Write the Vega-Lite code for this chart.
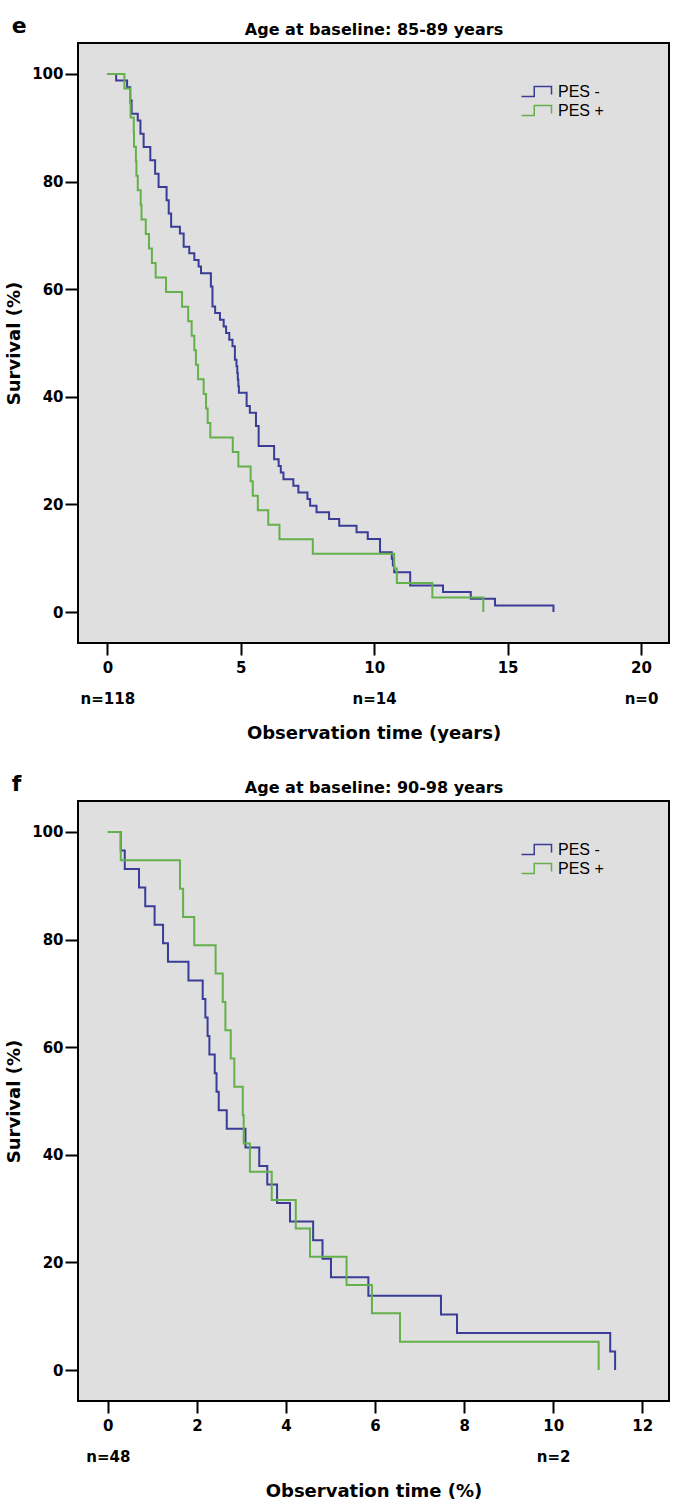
{
  "$schema": "https://vega.github.io/schema/vega-lite/v6.json",
  "background": "white",
  "padding": {"left": 4, "top": 14, "right": 2, "bottom": 4},
  "datasets": {
    "e": [
      {"g": "PES -", "t": 0, "s": 100}, {"g": "PES -", "t": 0.33, "s": 98.77}, {"g": "PES -", "t": 0.74, "s": 97.53}, {"g": "PES -", "t": 0.86, "s": 95.06}, {"g": "PES -", "t": 0.91, "s": 92.59}, {"g": "PES -", "t": 1.14, "s": 91.36}, {"g": "PES -", "t": 1.24, "s": 88.89}, {"g": "PES -", "t": 1.36, "s": 86.42}, {"g": "PES -", "t": 1.61, "s": 83.95}, {"g": "PES -", "t": 1.79, "s": 81.48}, {"g": "PES -", "t": 1.92, "s": 79.01}, {"g": "PES -", "t": 2.22, "s": 76.54}, {"g": "PES -", "t": 2.3, "s": 74.07}, {"g": "PES -", "t": 2.39, "s": 71.6}, {"g": "PES -", "t": 2.72, "s": 70.37}, {"g": "PES -", "t": 2.86, "s": 67.9}, {"g": "PES -", "t": 3.07, "s": 66.67}, {"g": "PES -", "t": 3.26, "s": 65.43}, {"g": "PES -", "t": 3.42, "s": 64.2}, {"g": "PES -", "t": 3.51, "s": 62.96}, {"g": "PES -", "t": 3.88, "s": 60.49}, {"g": "PES -", "t": 3.94, "s": 56.79}, {"g": "PES -", "t": 4.04, "s": 55.56}, {"g": "PES -", "t": 4.22, "s": 54.32}, {"g": "PES -", "t": 4.36, "s": 53.09}, {"g": "PES -", "t": 4.45, "s": 51.85}, {"g": "PES -", "t": 4.57, "s": 50.62}, {"g": "PES -", "t": 4.69, "s": 49.38}, {"g": "PES -", "t": 4.78, "s": 46.91}, {"g": "PES -", "t": 4.84, "s": 45.68}, {"g": "PES -", "t": 4.87, "s": 44.44}, {"g": "PES -", "t": 4.89, "s": 43.21}, {"g": "PES -", "t": 4.91, "s": 41.98}, {"g": "PES -", "t": 4.93, "s": 40.74}, {"g": "PES -", "t": 5.22, "s": 38.27}, {"g": "PES -", "t": 5.34, "s": 37.04}, {"g": "PES -", "t": 5.57, "s": 34.57}, {"g": "PES -", "t": 5.67, "s": 30.86}, {"g": "PES -", "t": 6.25, "s": 28.4}, {"g": "PES -", "t": 6.42, "s": 27.16}, {"g": "PES -", "t": 6.5, "s": 25.93}, {"g": "PES -", "t": 6.6, "s": 24.69}, {"g": "PES -", "t": 6.97, "s": 23.46}, {"g": "PES -", "t": 7.16, "s": 22.22}, {"g": "PES -", "t": 7.5, "s": 20.99}, {"g": "PES -", "t": 7.6, "s": 19.75}, {"g": "PES -", "t": 7.84, "s": 18.52}, {"g": "PES -", "t": 8.31, "s": 17.28}, {"g": "PES -", "t": 8.69, "s": 16.05}, {"g": "PES -", "t": 9.34, "s": 14.81}, {"g": "PES -", "t": 9.76, "s": 13.58}, {"g": "PES -", "t": 10.22, "s": 11.11}, {"g": "PES -", "t": 10.66, "s": 9.88}, {"g": "PES -", "t": 10.7, "s": 8.64}, {"g": "PES -", "t": 10.75, "s": 7.41}, {"g": "PES -", "t": 11.35, "s": 4.94}, {"g": "PES -", "t": 12.58, "s": 3.7}, {"g": "PES -", "t": 13.62, "s": 2.47}, {"g": "PES -", "t": 14.53, "s": 1.23}, {"g": "PES -", "t": 16.72, "s": 0},
      {"g": "PES +", "t": 0, "s": 100}, {"g": "PES +", "t": 0.64, "s": 97.3}, {"g": "PES +", "t": 0.85, "s": 94.59}, {"g": "PES +", "t": 0.87, "s": 91.89}, {"g": "PES +", "t": 0.99, "s": 89.19}, {"g": "PES +", "t": 1.0, "s": 86.49}, {"g": "PES +", "t": 1.07, "s": 83.78}, {"g": "PES +", "t": 1.09, "s": 81.08}, {"g": "PES +", "t": 1.14, "s": 78.38}, {"g": "PES +", "t": 1.25, "s": 75.68}, {"g": "PES +", "t": 1.28, "s": 72.97}, {"g": "PES +", "t": 1.44, "s": 70.27}, {"g": "PES +", "t": 1.56, "s": 67.57}, {"g": "PES +", "t": 1.67, "s": 64.86}, {"g": "PES +", "t": 1.81, "s": 62.16}, {"g": "PES +", "t": 2.2, "s": 59.46}, {"g": "PES +", "t": 2.8, "s": 56.76}, {"g": "PES +", "t": 3.03, "s": 54.05}, {"g": "PES +", "t": 3.16, "s": 51.35}, {"g": "PES +", "t": 3.26, "s": 48.65}, {"g": "PES +", "t": 3.32, "s": 45.95}, {"g": "PES +", "t": 3.4, "s": 43.24}, {"g": "PES +", "t": 3.61, "s": 40.54}, {"g": "PES +", "t": 3.7, "s": 37.84}, {"g": "PES +", "t": 3.76, "s": 35.14}, {"g": "PES +", "t": 3.86, "s": 32.43}, {"g": "PES +", "t": 4.7, "s": 29.73}, {"g": "PES +", "t": 4.91, "s": 27.03}, {"g": "PES +", "t": 5.37, "s": 24.32}, {"g": "PES +", "t": 5.45, "s": 21.62}, {"g": "PES +", "t": 5.64, "s": 18.92}, {"g": "PES +", "t": 6.03, "s": 16.22}, {"g": "PES +", "t": 6.45, "s": 13.51}, {"g": "PES +", "t": 7.7, "s": 10.81}, {"g": "PES +", "t": 10.75, "s": 8.11}, {"g": "PES +", "t": 10.85, "s": 5.41}, {"g": "PES +", "t": 12.18, "s": 2.7}, {"g": "PES +", "t": 14.09, "s": 0}
    ],
    "f": [
      {"g": "PES -", "t": 0, "s": 100}, {"g": "PES -", "t": 0.29, "s": 96.55}, {"g": "PES -", "t": 0.38, "s": 93.1}, {"g": "PES -", "t": 0.7, "s": 89.66}, {"g": "PES -", "t": 0.84, "s": 86.21}, {"g": "PES -", "t": 1.05, "s": 82.76}, {"g": "PES -", "t": 1.24, "s": 79.31}, {"g": "PES -", "t": 1.35, "s": 75.86}, {"g": "PES -", "t": 1.81, "s": 72.41}, {"g": "PES -", "t": 2.13, "s": 68.97}, {"g": "PES -", "t": 2.19, "s": 65.52}, {"g": "PES -", "t": 2.24, "s": 62.07}, {"g": "PES -", "t": 2.28, "s": 58.62}, {"g": "PES -", "t": 2.4, "s": 55.17}, {"g": "PES -", "t": 2.44, "s": 51.72}, {"g": "PES -", "t": 2.49, "s": 48.28}, {"g": "PES -", "t": 2.67, "s": 44.83}, {"g": "PES -", "t": 3.09, "s": 41.38}, {"g": "PES -", "t": 3.4, "s": 37.93}, {"g": "PES -", "t": 3.58, "s": 34.48}, {"g": "PES -", "t": 3.8, "s": 31.03}, {"g": "PES -", "t": 4.09, "s": 27.59}, {"g": "PES -", "t": 4.61, "s": 24.14}, {"g": "PES -", "t": 4.82, "s": 20.69}, {"g": "PES -", "t": 5.01, "s": 17.24}, {"g": "PES -", "t": 5.85, "s": 13.79}, {"g": "PES -", "t": 7.48, "s": 10.34}, {"g": "PES -", "t": 7.84, "s": 6.9}, {"g": "PES -", "t": 11.28, "s": 3.45}, {"g": "PES -", "t": 11.39, "s": 0},
      {"g": "PES +", "t": 0, "s": 100}, {"g": "PES +", "t": 0.29, "s": 94.74}, {"g": "PES +", "t": 1.62, "s": 89.47}, {"g": "PES +", "t": 1.69, "s": 84.21}, {"g": "PES +", "t": 1.94, "s": 78.95}, {"g": "PES +", "t": 2.42, "s": 73.68}, {"g": "PES +", "t": 2.58, "s": 68.42}, {"g": "PES +", "t": 2.64, "s": 63.16}, {"g": "PES +", "t": 2.76, "s": 57.89}, {"g": "PES +", "t": 2.84, "s": 52.63}, {"g": "PES +", "t": 3.03, "s": 47.37}, {"g": "PES +", "t": 3.05, "s": 42.11}, {"g": "PES +", "t": 3.19, "s": 36.84}, {"g": "PES +", "t": 3.68, "s": 31.58}, {"g": "PES +", "t": 4.22, "s": 26.32}, {"g": "PES +", "t": 4.54, "s": 21.05}, {"g": "PES +", "t": 5.36, "s": 15.79}, {"g": "PES +", "t": 5.93, "s": 10.53}, {"g": "PES +", "t": 6.56, "s": 5.26}, {"g": "PES +", "t": 11.02, "s": 0}
    ]
  },
  "config": {
    "view": {"fill": "#dfdfdf", "stroke": "#000000", "strokeWidth": 2},
    "font": "DejaVu Sans",
    "axis": {"domain": false, "grid": false, "tickColor": "#000000", "tickWidth": 2, "labelColor": "#000000", "labelFont": "DejaVu Sans", "labelFontWeight": "bold", "labelFontSize": 15, "titleFont": "DejaVu Sans", "titleFontSize": 18, "titleFontWeight": "bold", "titleColor": "#000000"},
    "legend": {"orient": "none", "legendX": 450, "legendY": 40, "title": null, "symbolType": "M-2,0.67L-0.3,0.67L-0.3,-0.67L2,-0.67L2,0.4", "symbolSize": 225, "symbolStrokeWidth": 1.5, "symbolFillColor": "transparent", "labelFont": "Liberation Sans Narrow, Liberation Sans", "labelFontSize": 16, "labelColor": "#000000", "labelOffset": 13, "rowPadding": 2},
    "title": {"font": "DejaVu Sans", "fontSize": 22, "fontWeight": "bold", "color": "#000000", "anchor": "start", "frame": "bounds", "baseline": "alphabetic", "offset": -17, "dx": 6}
  },
  "resolve": {"scale": {"color": "independent"}},
  "spacing": 29,
  "vconcat": [
    {
      "width": 591, "height": 600,
      "title": {"text": "e"},
      "data": {"name": "e"},
      "layer": [
        {
          "transform": [{"filter": "datum.g == 'PES -'"}],
          "mark": {"type": "line", "interpolate": "step-after", "strokeWidth": 2},
          "encoding": {
            "x": {"field": "t", "type": "quantitative", "scale": {"domain": [-1.1, 21.05], "nice": false, "zero": false},
                  "axis": {"orient": "bottom", "values": [0, 5, 10, 15, 20], "tickSize": 12, "labelPadding": 5, "labelLineHeight": 31, "labelExpr": "datum.value == 0 ? ['0', 'n=118'] : datum.value == 10 ? ['10', 'n=14'] : datum.value == 20 ? ['20', 'n=0'] : datum.label", "title": "Observation time (years)", "titlePadding": 18}},
            "y": {"field": "s", "type": "quantitative", "scale": {"domain": [-5.76, 105.76], "nice": false, "zero": false},
                  "axis": {"values": [0, 20, 40, 60, 80, 100], "tickSize": 13, "labelPadding": 2, "title": "Survival (%)", "titlePadding": 8}},
            "color": {"field": "g", "type": "nominal", "scale": {"domain": ["PES -", "PES +"], "range": ["#3a3c97", "#64b04b"]}}
          }
        },
        {
          "transform": [{"filter": "datum.g == 'PES +'"}],
          "mark": {"type": "line", "interpolate": "step-after", "strokeWidth": 2},
          "encoding": {
            "x": {"field": "t", "type": "quantitative", "scale": {"domain": [-1.1, 21.05], "nice": false, "zero": false},
                  "axis": {"orient": "top", "labels": false, "ticks": false, "domain": false, "title": "Age at baseline: 85-89 years", "titleFontSize": 16, "titlePadding": 6}},
            "y": {"field": "s", "type": "quantitative", "scale": {"domain": [-5.76, 105.76], "nice": false, "zero": false},
                  "axis": {"values": [0, 20, 40, 60, 80, 100], "tickSize": 13, "labelPadding": 2, "title": "Survival (%)", "titlePadding": 8}},
            "color": {"field": "g", "type": "nominal", "scale": {"domain": ["PES -", "PES +"], "range": ["#3a3c97", "#64b04b"]}}
          }
        }
      ],
      "resolve": {"axis": {"x": "independent"}}
    },
    {
      "width": 591, "height": 600,
      "title": {"text": "f"},
      "data": {"name": "f"},
      "layer": [
        {
          "transform": [{"filter": "datum.g == 'PES -'"}],
          "mark": {"type": "line", "interpolate": "step-after", "strokeWidth": 2},
          "encoding": {
            "x": {"field": "t", "type": "quantitative", "scale": {"domain": [-0.67, 12.6], "nice": false, "zero": false},
                  "axis": {"orient": "bottom", "values": [0, 2, 4, 6, 8, 10, 12], "tickSize": 12, "labelPadding": 5, "labelLineHeight": 31, "labelExpr": "datum.value == 0 ? ['0', 'n=48'] : datum.value == 10 ? ['10', 'n=2'] : datum.label", "title": "Observation time (%)", "titlePadding": 18}},
            "y": {"field": "s", "type": "quantitative", "scale": {"domain": [-5.76, 105.76], "nice": false, "zero": false},
                  "axis": {"values": [0, 20, 40, 60, 80, 100], "tickSize": 13, "labelPadding": 2, "title": "Survival (%)", "titlePadding": 8}},
            "color": {"field": "g", "type": "nominal", "scale": {"domain": ["PES -", "PES +"], "range": ["#3a3c97", "#64b04b"]}}
          }
        },
        {
          "transform": [{"filter": "datum.g == 'PES +'"}],
          "mark": {"type": "line", "interpolate": "step-after", "strokeWidth": 2},
          "encoding": {
            "x": {"field": "t", "type": "quantitative", "scale": {"domain": [-0.67, 12.6], "nice": false, "zero": false},
                  "axis": {"orient": "top", "labels": false, "ticks": false, "domain": false, "title": "Age at baseline: 90-98 years", "titleFontSize": 16, "titlePadding": 6}},
            "y": {"field": "s", "type": "quantitative", "scale": {"domain": [-5.76, 105.76], "nice": false, "zero": false},
                  "axis": {"values": [0, 20, 40, 60, 80, 100], "tickSize": 13, "labelPadding": 2, "title": "Survival (%)", "titlePadding": 8}},
            "color": {"field": "g", "type": "nominal", "scale": {"domain": ["PES -", "PES +"], "range": ["#3a3c97", "#64b04b"]}}
          }
        }
      ],
      "resolve": {"axis": {"x": "independent"}}
    }
  ]
}
